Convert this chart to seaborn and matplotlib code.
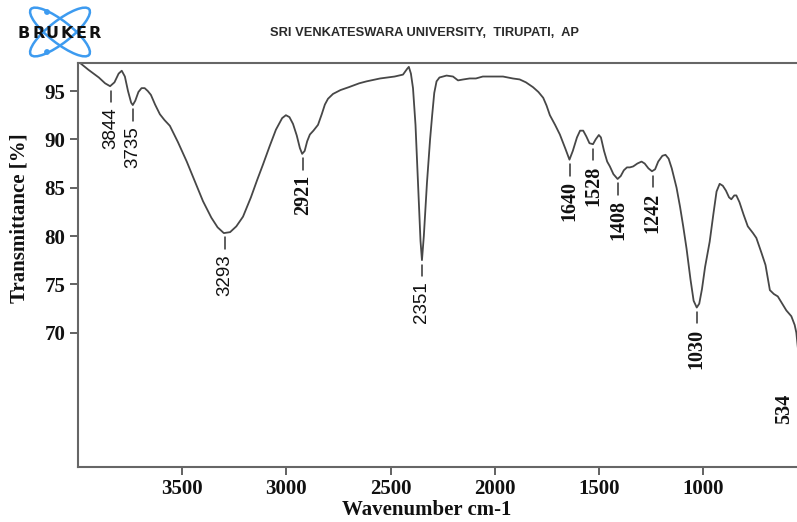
import numpy as np
import pandas as pd
import matplotlib.pyplot as plt
import seaborn as sns
from matplotlib.patches import Ellipse, Circle

# IR spectrum (wavenumber cm-1, transmittance %)
wavenumber = [3990, 3950, 3900, 3870, 3846, 3825, 3805, 3790, 3775, 3760,
              3745, 3737, 3725, 3710, 3695, 3680, 3665, 3650, 3630, 3607,
              3585, 3559, 3520, 3478, 3440, 3400, 3360, 3330, 3300, 3270,
              3240, 3208, 3170, 3140, 3112, 3080, 3050, 3020, 3002, 2985,
              2968, 2950, 2935, 2924, 2912, 2900, 2887, 2870, 2848, 2830,
              2815, 2800, 2776, 2740, 2700, 2650, 2615, 2550, 2480, 2440,
              2420, 2412, 2402, 2392, 2380, 2368, 2356, 2349, 2340, 2325,
              2310, 2300, 2290, 2279, 2265, 2231, 2200, 2176, 2150, 2120,
              2090, 2057, 2000, 1960, 1913, 1880, 1850, 1816, 1790, 1767,
              1751, 1735, 1710, 1687, 1660, 1641, 1625, 1605, 1590, 1575,
              1560, 1545, 1528, 1515, 1500, 1490, 1475, 1460, 1447, 1430,
              1410, 1395, 1380, 1365, 1351, 1335, 1315, 1295, 1280, 1262,
              1245, 1230, 1215, 1195, 1180, 1165, 1150, 1127, 1110, 1095,
              1079, 1060, 1045, 1030, 1018, 1005, 990, 968, 950, 935,
              920, 905, 890, 875, 864, 850, 840, 825, 805, 785,
              760, 744, 720, 700, 679, 660, 641, 620, 600, 576,
              560, 552, 545, 540, 534, 525, 500]
transmittance = [97.9, 97.2, 96.4, 95.8, 95.5, 95.9, 96.8, 97.1, 96.5, 95.0,
                 93.8, 93.55, 94.0, 94.9, 95.3, 95.3, 95.0, 94.6, 93.6, 92.6,
                 92.0, 91.4, 89.7, 87.7, 85.7, 83.6, 81.9, 80.9, 80.3, 80.4,
                 81.0, 82.0, 84.0, 85.8, 87.4, 89.3, 91.0, 92.2, 92.5, 92.3,
                 91.6, 90.4, 89.1, 88.5, 88.8, 89.8, 90.5, 90.9, 91.5, 92.6,
                 93.6, 94.2, 94.7, 95.1, 95.4, 95.8, 96.0, 96.3, 96.5, 96.7,
                 97.3, 97.5, 96.8, 95.3, 91.5, 85.5, 79.5, 77.5, 80.0, 85.5,
                 90.0, 92.5, 94.8, 96.0, 96.4, 96.6, 96.5, 96.1, 96.2, 96.3,
                 96.3, 96.5, 96.5, 96.5, 96.3, 96.2, 95.9, 95.4, 94.9, 94.3,
                 93.5, 92.5, 91.5, 90.5, 89.0, 87.9, 88.8, 90.2, 90.9, 90.9,
                 90.3, 89.6, 89.5, 90.0, 90.45, 90.2, 88.8, 87.7, 87.2, 86.4,
                 85.9, 86.2, 86.8, 87.1, 87.1, 87.2, 87.5, 87.7, 87.5, 87.0,
                 86.7, 86.9, 87.7, 88.3, 88.4, 88.0, 87.0, 85.0, 83.0, 81.0,
                 78.7, 75.5, 73.3, 72.6, 73.0, 74.5, 76.8, 79.4, 82.3, 84.6,
                 85.4, 85.2, 84.7, 84.0, 83.8, 84.2, 84.2, 83.5, 82.2, 81.0,
                 80.3, 79.8, 78.3, 77.0, 74.4, 74.0, 73.75, 73.0, 72.3, 71.7,
                 70.8, 70.0, 68.5, 67.5, 66.5, 67.5, 68.5]

# peak annotations
peak_labels = [3844, 3735, 3293, 2921, 2351, 1640, 1528, 1408, 1242, 1030, 534]
sans_labels = [3844, 3735, 3293, 2351]

x_ticks = [3500, 3000, 2500, 2000, 1500, 1000]
y_ticks = [70, 75, 80, 85, 90, 95]

spectrum = pd.DataFrame({'wavenumber': wavenumber, 'transmittance': transmittance})

sns.set_style('ticks')
plt.rcParams['font.family'] = ['Liberation Serif', 'DejaVu Serif']

W, H = 797, 522
fig = plt.figure(figsize=(W / 100, H / 100), dpi=100)
ax = fig.add_axes([78 / W, 55 / H, 750 / W, 404 / H])

sns.lineplot(data=spectrum, x='wavenumber', y='transmittance', sort=False,
             estimator=None, color='#474747', linewidth=1.3, ax=ax)

ax.set_xlim(4000, 400)
ax.set_ylim(56.1, 97.9)
ax.set_xticks(x_ticks)
ax.set_yticks(y_ticks)
ax.tick_params(axis='both', length=6, width=1.3, color='#555555',
               labelsize=15, pad=3, labelcolor='#111111')
for lab in ax.get_xticklabels() + ax.get_yticklabels():
    lab.set_fontweight('bold')
ax.set_xlabel('')
ax.set_ylabel('')
for side in ['left', 'bottom', 'top', 'right']:
    ax.spines[side].set_visible(True)
    ax.spines[side].set_color('#666666')
    ax.spines[side].set_linewidth(1.5)

# dip markers: short dash under the dip, then rotated wavenumber
wn = np.array(wavenumber)
tr = np.array(transmittance)
for p in peak_labels:
    near = np.abs(wn - p) <= 15
    dip = tr[near].min()
    ax.plot([p, p], [dip - 0.45, dip - 1.65], color='#333333', lw=1.1)
    if p in sans_labels:
        fam, size, weight = ['Liberation Sans', 'DejaVu Sans'], 13.5, 'normal'
    else:
        fam, size, weight = ['Liberation Serif', 'DejaVu Serif'], 14.5, 'bold'
    # the last label sits at the cut edge of the original scan
    tx = max(p, 610)
    ax.text(tx, dip - 2.8 if p == 534 else dip - 2.2, str(p), rotation=90,
            ha='center', va='top', fontsize=size, family=fam,
            fontweight=weight, color='#111111')

# axis titles
fig.text(427 / W, 1 - 510 / H, 'Wavenumber cm-1', ha='center', va='center',
         fontsize=15, fontweight='bold', color='#111111')
fig.text(20 / W, 1 - 218 / H, 'Transmittance [%]', ha='center', va='center',
         rotation=90, fontsize=15, fontweight='bold', color='#111111')

# header
fig.text(425 / W, 1 - 33 / H, 'SRI VENKATESWARA UNIVERSITY,  TIRUPATI,  AP',
         ha='center', va='center', fontsize=9.3, fontweight='bold',
         family=['Liberation Sans', 'DejaVu Sans'], color='#2a2a2a')

logo = fig.add_axes([0, 1 - 60 / H, 110 / W, 60 / H])
logo.set_xlim(0, 110)
logo.set_ylim(60, 0)
logo.axis('off')
for ang in [38, -38]:
    logo.add_patch(Ellipse((60, 32), 74, 22, angle=ang, fill=False,
                           edgecolor='#3d9bf0', linewidth=1.8))
for cy in [12, 52]:
    logo.add_patch(Circle((47, cy), 2.2, color='#3d9bf0'))
for i, ch in enumerate('BRUKER'):
    logo.text(24 + i * 14.2, 33, ch, ha='center', va='center', fontsize=11.5,
              fontweight='heavy', family=['DejaVu Sans'], color='#111111')

fig.savefig('out.png', dpi=100)
